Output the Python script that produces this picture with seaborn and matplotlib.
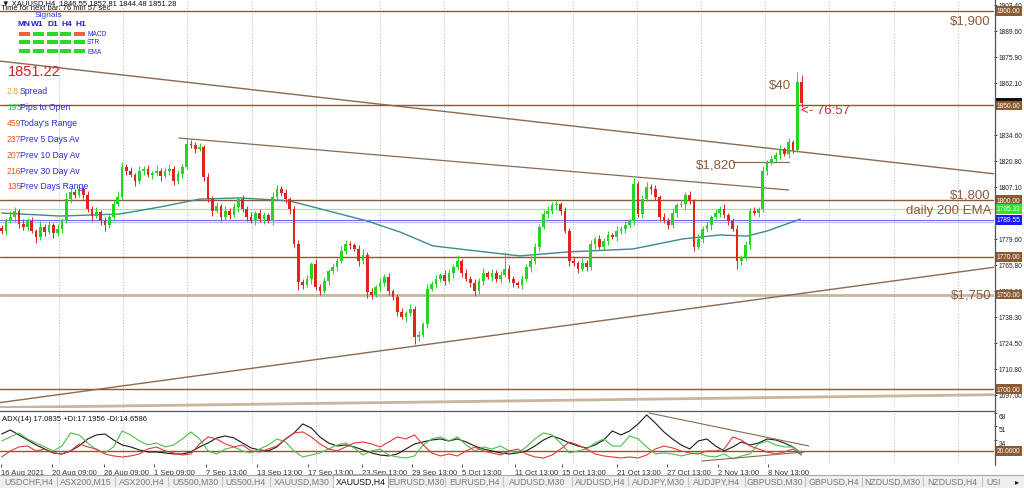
import numpy as np
import pandas as pd
import matplotlib
matplotlib.use("Agg")
import matplotlib.pyplot as plt
from matplotlib.patches import Rectangle
from matplotlib.lines import Line2D
import seaborn as sns

# XAUUSD H4, each candle here = two 4h bars
first_open = 1785.0
closes = [
    1783.6, 1788.9, 1791.0, 1794.2, 1787.3, 1785.7, 1788.9, 1783.6, 1780.4, 1785.7,
    1783.1, 1786.8, 1782.5, 1784.6, 1788.9, 1800.5, 1804.2, 1802.6, 1805.8, 1802.6,
    1795.2, 1791.5, 1793.6, 1788.9, 1786.8, 1791.0, 1797.9, 1801.6, 1817.5, 1815.3,
    1813.2, 1810.0, 1815.3, 1816.4, 1813.2, 1814.3, 1815.3, 1812.7, 1815.3, 1816.4,
    1810.0, 1813.8, 1817.5, 1829.6, 1829.1, 1827.0, 1828.0, 1812.2, 1800.5, 1794.2,
    1796.8, 1791.0, 1794.2, 1792.1, 1796.3, 1800.5, 1795.2, 1791.0, 1788.9, 1793.1,
    1789.9, 1792.1, 1788.9, 1801.6, 1805.8, 1803.7, 1800.5, 1795.2, 1776.7, 1756.6,
    1755.0, 1758.2, 1766.1, 1754.0, 1751.9, 1757.1, 1762.4, 1764.5, 1767.7, 1773.0,
    1776.7, 1776.2, 1774.1, 1767.7, 1770.9, 1751.3, 1749.7, 1754.0, 1756.1, 1759.3,
    1751.9, 1748.7, 1740.7, 1738.1, 1740.2, 1742.3, 1727.5, 1728.6, 1734.4, 1752.9,
    1755.6, 1758.2, 1760.3, 1757.1, 1761.4, 1764.5, 1767.7, 1761.4, 1758.2, 1756.1,
    1751.9, 1757.1, 1761.4, 1759.3, 1761.4, 1758.2, 1760.3, 1763.5, 1758.2, 1756.1,
    1755.0, 1758.2, 1764.5, 1767.7, 1775.1, 1785.7, 1792.6, 1794.2, 1797.4, 1797.9,
    1794.2, 1783.6, 1767.7, 1766.6, 1763.5, 1766.6, 1764.5, 1776.7, 1779.4, 1775.1,
    1778.3, 1781.5, 1780.4, 1783.6, 1784.6, 1786.8, 1788.9, 1808.5, 1792.6, 1800.5,
    1806.9, 1805.8, 1801.6, 1791.0, 1788.9, 1786.8, 1793.1, 1797.4, 1797.9, 1802.6,
    1799.5, 1775.1, 1779.4, 1784.6, 1786.8, 1791.0, 1793.1, 1795.2, 1792.1, 1788.9,
    1784.6, 1767.7, 1769.9, 1776.2, 1794.2, 1793.1, 1795.2, 1815.3, 1819.6, 1821.7,
    1823.8, 1827.0, 1824.4, 1830.5, 1826.2, 1862.4, 1851.3,
]
up_wick = [
    2, 1.5, 3, 2, 1, 2.5, 1.5, 2, 1, 3,
    1.5, 2, 1, 2.5, 1.5, 3, 2, 1.5, 2, 1,
    2, 1.5, 2.5, 1, 2, 1.5, 2, 3, 2.5, 1.5,
    2, 1, 2.5, 1.5, 2, 1, 3, 1.5, 2, 2.5,
    1.5, 2, 1.5, 3, 2, 1.5, 2, 1, 2, 1.5,
    2, 1, 2.5, 1.5, 2, 1, 2, 1.5, 2.5, 1,
    2, 1.5, 1, 2.5, 2, 1.5, 2, 1, 1.5, 2,
    1.5, 2, 1, 2.5, 1.5, 2, 1, 2, 1.5, 2.5,
    2, 1.5, 1, 2, 3, 1.5, 2, 1, 2.5, 1.5,
    2, 1, 1.5, 2, 1, 2.5, 1.5, 2, 1, 2.5,
    1.5, 2, 1, 2.5, 2, 1.5, 3, 1, 2, 1.5,
    2, 1.5, 2.5, 1, 2, 1.5, 2, 9, 2, 1.5,
    1, 2, 1.5, 2.5, 2, 1.5, 2, 2.5, 1.5, 2,
    1, 2, 1.5, 2, 1, 2.5, 1.5, 2, 1, 2,
    1.5, 2, 1, 2.5, 1.5, 2, 1, 3, 1.5, 2,
    2.5, 1.5, 2, 1, 2, 1.5, 2.5, 1, 2, 1.5,
    2, 1, 2.5, 1.5, 2, 1, 2, 1.5, 2.5, 1,
    1.5, 2, 1, 2, 1.5, 2, 1, 2.5, 1.5, 2,
    1.5, 2, 1, 2.5, 1.5, 5.3, 4,
]
down_wick = [
    1.5, 2, 1, 2.5, 2, 1.5, 2, 1, 3, 1.5,
    2, 1, 2.5, 1.5, 2, 1, 2, 1.5, 1, 2,
    1.5, 2.5, 1, 2, 3, 1.5, 2, 1, 1.5, 2,
    1, 2.5, 1.5, 2, 1, 2, 1.5, 2.5, 1, 2,
    2, 1.5, 2, 1, 1.5, 2, 1, 2, 1.5, 2.5,
    1, 2, 1.5, 2, 1, 2.5, 1.5, 2, 1, 2,
    1.5, 2.5, 1, 2, 1, 1.5, 2, 2.5, 1.5, 4,
    2, 1, 2.5, 1.5, 2, 1, 2, 1.5, 2, 1,
    1.5, 2, 1, 2.5, 1.5, 3, 2, 1, 2, 1.5,
    2, 1.5, 2, 1, 2.5, 1.5, 3.7, 2, 1, 2,
    1, 2, 1.5, 2, 1, 2.5, 1.5, 2, 1, 2,
    2.5, 1.5, 2, 1, 2, 1.5, 2, 1, 1.5, 2,
    1.5, 2, 1, 2.5, 1.5, 2, 1, 2, 1.5, 2,
    2, 1, 2.5, 1.5, 2, 1, 2, 1.5, 2.5, 1,
    1.5, 2, 1, 2, 1.5, 2, 1, 2, 1.5, 2,
    1, 2.5, 1.5, 2, 1, 2, 1.5, 2, 1, 2.5,
    1.5, 2, 1, 2, 1.5, 2.5, 1, 2, 1.5, 2,
    1, 4, 2, 1.5, 2, 1, 2, 1.5, 2, 1,
    1.5, 2, 1, 2, 1.5, 1, 2,
]

# daily 200 EMA sampled along the chart
ema_bar = [0, 13.6, 27.5, 36.8, 46.1, 55.4, 67.0, 77.0, 85.0, 92.6, 100.3,
           120.5, 131.5, 146.8, 158.4, 167.0, 173.3, 178.0, 185.7]
ema_val = [1793.1, 1791.5, 1792.6, 1796.3, 1800.5, 1801.1, 1799.5, 1793.6, 1788.9, 1783.1,
           1775.7, 1770.4, 1772.5, 1774.1, 1779.4, 1781.5, 1780.9, 1783.6, 1789.9]

# ADX(14) panel, one value every second candle
adx = [
    41.5, 46.6, 40.3, 33.9, 27.6, 22.5, 17.5, 16.2, 20.0, 26.3,
    35.2, 40.3, 41.5, 33.9, 27.6, 25.1, 21.3, 18.7, 18.7, 17.5,
    16.2, 16.2, 18.7, 25.1, 30.1, 36.5, 39.0, 36.5, 30.1, 23.8,
    21.3, 20.0, 25.1, 35.2, 42.8, 54.2, 49.1, 37.7, 30.1, 26.3,
    27.6, 25.1, 21.3, 17.5, 14.9, 13.7, 16.2, 22.5, 28.9, 31.4,
    33.9, 35.2, 32.7, 35.2, 31.4, 26.3, 22.5, 20.0, 17.5, 16.2,
    17.5, 20.0, 26.3, 33.9, 39.0, 35.2, 30.1, 26.3, 23.8, 27.6,
    33.9, 45.3, 40.3, 45.3, 54.2, 65.6, 55.4, 44.1, 35.2, 27.6,
    22.5, 32.7, 35.2, 26.3, 20.0, 25.1, 31.4, 27.6, 30.1, 35.2,
    33.9, 30.1, 25.1, 17.1,
]
plus_di = [
    32.7, 37.7, 42.8, 35.2, 30.1, 25.1, 20.0, 26.3, 42.8, 40.3,
    30.1, 21.3, 17.5, 25.1, 45.3, 40.3, 32.7, 27.6, 30.1, 25.1,
    27.6, 35.2, 44.1, 35.2, 20.0, 16.2, 22.5, 25.1, 20.0, 17.5,
    22.5, 27.6, 35.2, 31.4, 20.0, 12.4, 14.9, 17.5, 22.5, 27.6,
    30.1, 23.8, 14.9, 20.0, 22.5, 14.9, 12.4, 11.1, 13.7, 27.6,
    35.2, 37.7, 32.7, 37.7, 27.6, 20.0, 25.1, 22.5, 26.3, 20.0,
    17.5, 25.1, 35.2, 42.8, 40.3, 30.1, 17.5, 20.0, 22.5, 30.1,
    35.2, 26.3, 26.3, 39.0, 35.2, 25.1, 16.2, 17.5, 16.2, 13.7,
    16.2, 17.5, 13.7, 12.4, 16.2, 9.9, 13.7, 16.2, 28.9, 32.7,
    27.6, 25.1, 25.1, 17.2,
]
minus_di = [
    12.4, 20.0, 25.1, 26.3, 20.0, 22.5, 17.5, 16.2, 20.0, 28.9,
    25.1, 22.5, 16.2, 13.7, 12.4, 13.7, 16.2, 22.5, 25.1, 20.0,
    17.5, 14.9, 16.2, 28.9, 37.7, 35.2, 28.9, 25.1, 27.6, 20.0,
    18.7, 22.5, 26.3, 35.2, 42.8, 44.1, 37.7, 28.9, 22.5, 20.0,
    25.1, 30.1, 31.4, 28.9, 25.1, 31.4, 37.7, 35.2, 40.3, 27.6,
    17.5, 13.7, 16.2, 13.7, 20.0, 25.1, 20.0, 17.5, 14.9, 20.0,
    22.5, 16.2, 12.4, 11.1, 14.9, 22.5, 31.4, 27.6, 22.5, 16.2,
    13.7, 12.4, 11.1, 12.4, 11.1, 14.9, 22.5, 26.3, 23.8, 20.0,
    17.5, 16.2, 20.0, 20.0, 22.5, 37.7, 33.9, 26.3, 22.5, 18.7,
    16.2, 18.7, 22.5, 14.7,
]

# drawn trendlines: (bar, price) pairs
upper_trend = [(-0.4, 1873.5), (231, 1813.8)]
mid_trend = [(41.2, 1832.8), (183.0, 1805.3)]
low_trend = [(-0.4, 1692.8), (231, 1764.5)]
base_trend = [(-0.4, 1690.2), (231, 1697.0)]
line_1820 = [(170.0, 1820.0), (183.0, 1820.0)]
adx_trend_hi = [(150.5, 68.1), (187.7, 26.3)]
adx_trend_lo = [(162.8, 7.3), (186.7, 18.7)]

levels = [1900, 1850, 1800, 1770, 1750, 1700]
price_ticks = [1903.40, 1889.60, 1875.90, 1862.10, 1834.60, 1820.80, 1807.10,
               1779.60, 1765.80, 1752.00, 1738.30, 1724.50, 1710.80, 1697.00]
date_labels = ["16 Aug 2021", "20 Aug 09:00", "26 Aug 09:00", "1 Sep 09:00", "7 Sep 13:00",
               "13 Sep 13:00", "17 Sep 13:00", "23 Sep 13:00", "29 Sep 13:00", "5 Oct 13:00",
               "11 Oct 13:00", "15 Oct 13:00", "21 Oct 13:00", "27 Oct 13:00", "2 Nov 13:00",
               "8 Nov 13:00"]
date_bar = [-0.2, 11.7, 23.8, 35.4, 47.5, 59.4, 71.2, 83.8, 95.4, 107.0,
            119.4, 130.3, 143.1, 154.7, 166.6, 178.2]
stats = [("2.8", "Spread"), ("193", "Pips to Open"), ("459", "Today's Range"),
         ("237", "Prev 5 Days Av"), ("207", "Prev 10 Day Av"), ("216", "Prev 30 Day Av"),
         ("135", "Prev Days Range")]
timeframes = ["MN", "W1", "D1", "H4", "H1"]
signals = {"MACD": [0, 1, 1, 1, 0], "STR": [1, 1, 1, 1, 1], "EMA": [1, 1, 1, 1, 1]}
tabs = ["USDCHF,H4", "ASX200,M15", "ASX200,H4", "US500,M30", "US500,H4", "XAUUSD,M30",
        "XAUUSD,H4", "EURUSD,M30", "EURUSD,H4", "AUDUSD,M30", "AUDUSD,H4", "AUDJPY,M30",
        "AUDJPY,H4", "GBPUSD,M30", "GBPUSD,H4", "NZDUSD,M30", "NZDUSD,H4"]

sns.set_theme(style="white")
plt.rcParams['font.family'] = ['Liberation Sans', 'DejaVu Sans']

W, H = 1024, 489
PX = 4.3  # pixels per candle
fig = plt.figure(figsize=(W / 100, H / 100), dpi=100)
fig.patch.set_facecolor('white')


def fx(px):
    return px / W


def fy(py):
    return 1 - py / H


BROWN = '#8c5a32'
TAN = '#c8b59e'
ax = fig.add_axes([0, fy(409), fx(994), (409 - 2) / H])
ad = fig.add_axes([0, fy(465), fx(994), (465 - 412) / H])
xl = (-0.4, -0.4 + 994 / PX)
for a in (ax, ad):
    a.set_xlim(*xl)
    a.set_facecolor('white')
    for s in ('left', 'bottom', 'top', 'right'):
        a.spines[s].set_visible(False)
    for gp in np.arange(59, 990, 64.2):
        a.axvline(gp / PX - 0.4, color='#b5b5b5', lw=0.7, ls=(0, (1, 2)), zorder=0)
ax.set_ylim(1689.95, 1905.29)
ad.set_ylim(3.5, 70.6)
ad.spines['top'].set_visible(True)
ad.spines['top'].set_color('#555555')
ad.spines['top'].set_linewidth(0.9)
fig.add_artist(Line2D([fx(994.5)] * 2, [fy(0), fy(466)], color='#555555', lw=0.9))

# candles
c = np.array(closes)
o = np.r_[first_open, c[:-1]]
hi = np.maximum(o, c) + np.array(up_wick)
lo = np.minimum(o, c) - np.array(down_wick)
bars = np.arange(len(c))
col = np.where(c >= o, '#22d622', '#e3241e')
ax.vlines(bars, lo, hi, colors=col, lw=0.7, zorder=4)
ax.bar(bars, np.maximum(np.abs(c - o), 0.4), bottom=np.minimum(o, c), width=0.62,
       color=col, linewidth=0, zorder=5)

# levels and lines
for lv in levels:
    if lv == 1750:
        ax.axhline(lv, color=TAN, lw=2.0, zorder=2)
    else:
        ax.axhline(lv, color=BROWN, lw=1.0, zorder=2)
ax.axhline(1795.33, color='#9be89b', lw=0.8, zorder=1)
ax.axhline(1789.55, color='#6d6df0', lw=0.8, zorder=1)
ax.axhline(1788.3, color='#b9b9f2', lw=0.8, zorder=1)
for tl, lw, cc in ((upper_trend, 1.0, '#8a6a52'), (mid_trend, 0.9, '#8a6a52'),
                   (low_trend, 1.0, '#8a6a52'), (base_trend, 2.0, TAN),
                   (line_1820, 0.9, '#8a6a52')):
    ax.plot([p[0] for p in tl], [p[1] for p in tl], color=cc, lw=lw, zorder=3)
sns.lineplot(x=ema_bar, y=ema_val, ax=ax, color='#3b8c8c', lw=1.0, zorder=3)

# ADX panel
adx_df = pd.DataFrame({
    'bar': np.tile(np.arange(len(adx)) * 2, 3),
    'value': adx + plus_di + minus_di,
    'line': ['ADX'] * len(adx) + ['+DI'] * len(plus_di) + ['-DI'] * len(minus_di),
})
sns.lineplot(data=adx_df, x='bar', y='value', hue='line', ax=ad, legend=False, lw=0.8,
             palette={'ADX': '#1a1a1a', '+DI': '#4cbf4c', '-DI': '#e23a3a'}, zorder=3)
ad.axhline(20, color=BROWN, lw=1.0, zorder=2)
for tl in (adx_trend_hi, adx_trend_lo):
    ad.plot([p[0] for p in tl], [p[1] for p in tl], color='#8a6a52', lw=0.8, zorder=4)

# axes ticks
ax.set_xticks([])
ax.yaxis.tick_right()
ax.set_yticks(price_ticks)
ax.set_yticklabels([f"{v:.2f}" for v in price_ticks])
ax.tick_params(axis='y', right=True, length=2, width=0.6, pad=1.2, labelsize=4.8,
               colors='#222222')
ax.set_xlabel('')
ax.set_ylabel('')
ad.yaxis.tick_right()
ad.set_yticks([68, 51, 34])
ad.set_yticklabels(['68', '51', '34'])
for t in ad.get_yticklabels():
    t.set_va('top')
ad.tick_params(axis='y', right=True, length=2, width=0.6, pad=1.2, labelsize=4.8,
               colors='#222222')
ad.set_xticks(date_bar)
ad.set_xticklabels(date_labels, ha='left')
ad.tick_params(axis='x', bottom=True, length=2, width=0.6, pad=1.5, labelsize=5.5,
               colors='#333333')
ad.set_xlabel('')
ad.set_ylabel('')


def tag(a, y, text, bg, fg='white'):
    a.text(1.003, y, text, transform=a.get_yaxis_transform(), ha='left', va='center',
           fontsize=4.8, color=fg, zorder=20, clip_on=False,
           bbox=dict(boxstyle='square,pad=0.2', fc=bg, ec='none'))


tag(ax, 1900, "1900.00", BROWN)
tag(ax, 1851.28, "1851.28", '#111111')
tag(ax, 1850, "1850.00", BROWN)
tag(ax, 1800, "1800.00", BROWN)
tag(ax, 1795.33, "1795.33", '#2ee62e')
tag(ax, 1789.55, "1789.55", '#1a1aff')
tag(ax, 1770, "1770.00", BROWN)
tag(ax, 1750, "1750.00", BROWN)
tag(ax, 1700, "1700.00", BROWN)
tag(ad, 20, "20.0000", BROWN)

# chart annotations
ann = '#8c5a3c'
fig.text(fx(970), fy(21), "$1,900", fontsize=9.5, color=ann, ha='center', va='center')
fig.text(fx(970), fy(196), "$1,800", fontsize=9.5, color=ann, ha='center', va='center')
fig.text(fx(992), fy(211), "daily 200 EMA", fontsize=9.5, color=ann, ha='right', va='center')
fig.text(fx(971), fy(295), "$1,750", fontsize=9.5, color=ann, ha='center', va='center')
fig.text(fx(780), fy(86), "$40", fontsize=9.5, color=ann, ha='center', va='center')
fig.text(fx(716), fy(166), "$1,820", fontsize=9.5, color=ann, ha='center', va='center')
fig.text(fx(801), fy(111), "<- 76:57", fontsize=9.5, color='#c8302c', ha='left', va='center')
fig.text(fx(8), fy(72), "1851.22", fontsize=10.5, color='#d0201c', ha='left', va='center')

# info block top left
fig.text(fx(2), fy(3.5), "\u25bc XAUUSD,H4  1846.55 1852.81 1844.48 1851.28", fontsize=5.5,
         color='#111111', ha='left', va='center')
fig.text(fx(1), fy(9), "Time for next bar: 76 min 57 sec", fontsize=5.5, color='#111111',
         ha='left', va='center')
fig.text(fx(48), fy(15.5), "Signals", fontsize=6, color='#3a3ae0', ha='center', va='center')
tf_x = [24, 37, 53, 67, 81]
for t, px in zip(timeframes, tf_x):
    fig.text(fx(px), fy(24.5), t, fontsize=6, color='#2020c8', ha='center', va='center',
             fontweight='bold')
bar_x = [19, 33, 47, 60, 74]
for row, (name, states) in enumerate(signals.items()):
    yy = [35, 43, 52][row]
    for px, st in zip(bar_x, states):
        fig.add_artist(Rectangle((fx(px), fy(yy + 1.7)), fx(11), 3.4 / H,
                                 color='#24dc24' if st else '#f0603c', lw=0))
    fig.text(fx(87), fy(yy), name, fontsize=4.8, color='#2a2ad0', ha='left', va='center')
stat_y = [92, 108, 123, 140, 156, 172, 187]
val_col = ['#f0a030', '#38cc38', '#e55a22', '#e55a22', '#e55a22', '#e55a22', '#e55a22']
for (v, lab), yy, vc in zip(stats, stat_y, val_col):
    fig.text(fx(7), fy(yy), v, fontsize=6.2, color=vc, ha='left', va='center')
    fig.text(fx(20), fy(yy), lab, fontsize=6.2, color='#2a2ad0', ha='left', va='center')
ad.text(0.002, 0.86, "ADX(14) 17.0835 +DI:17.1956 -DI:14.6586", transform=ad.transAxes,
        fontsize=5.5, color='#111111', ha='left', va='center')

# symbol tabs
fig.add_artist(Rectangle((0, 0), 1, 13.5 / H, color='#efefef', lw=0))
fig.add_artist(Line2D([0, 1], [fy(475.5)] * 2, color='#a8a8a8', lw=0.8))
edges = [0, 57, 115, 168, 222, 270, 333, 388, 445, 503, 572, 628, 688, 745, 805, 862, 923, 982]
for i, name in enumerate(tabs):
    l, r = edges[i], edges[i + 1]
    sel = name == "XAUUSD,H4"
    if sel:
        fig.add_artist(Rectangle((fx(l), 0), fx(r - l), 14 / H, fc='white', ec='#a8a8a8', lw=0.8))
    else:
        fig.add_artist(Line2D([fx(r)] * 2, [fy(487), fy(478)], color='#c4c4c4', lw=0.8))
    fig.text(fx((l + r) / 2), fy(482.5), name, fontsize=6.3,
             color='#111111' if sel else '#7a7a7a', ha='center', va='center')
fig.text(fx(986), fy(482.5), "USI", fontsize=6.3, color='#7a7a7a', ha='left', va='center')
fig.add_artist(Rectangle((fx(1010), 0), fx(14), 13.5 / H, color='#efefef', lw=0))
fig.text(fx(1017), fy(482.5), "\u25b8", fontsize=6, color='#222222', ha='center', va='center')

fig.savefig("out.png", dpi=100)
